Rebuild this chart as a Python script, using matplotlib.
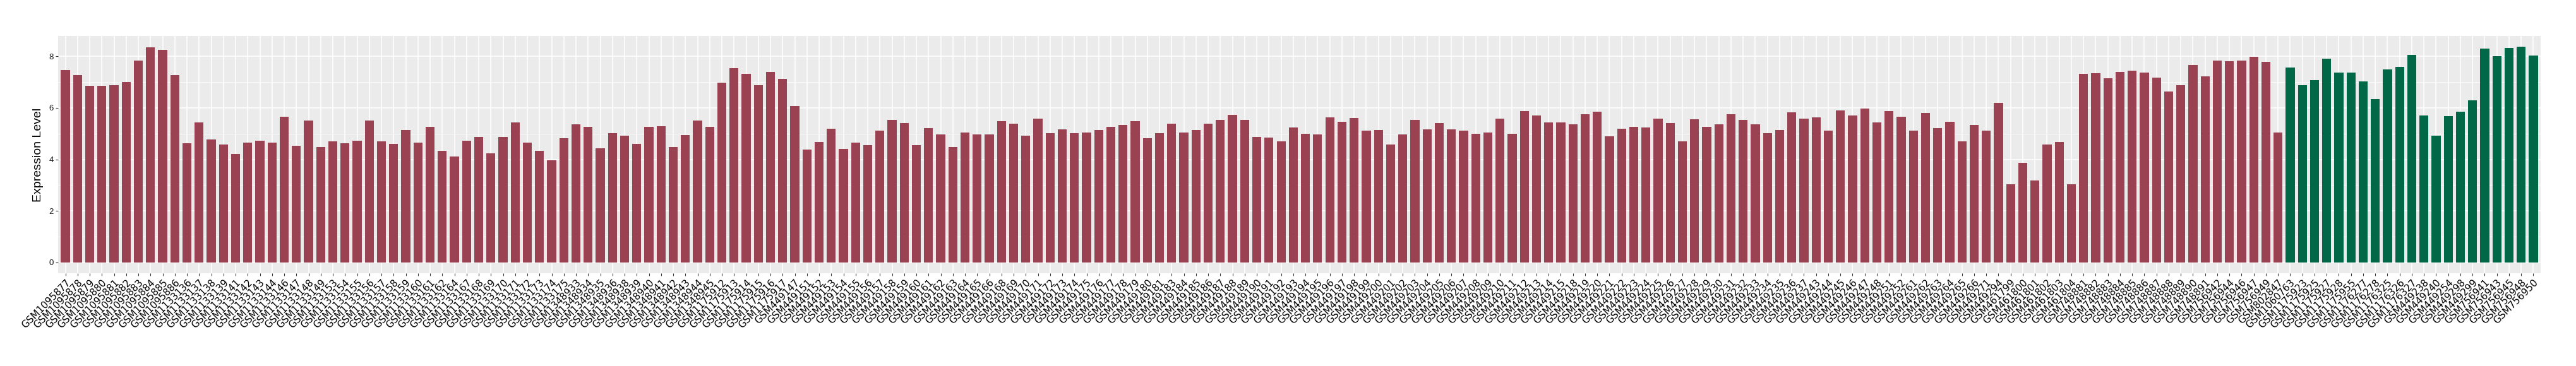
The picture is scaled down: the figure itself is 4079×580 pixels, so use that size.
import matplotlib
matplotlib.use("Agg")
import matplotlib.pyplot as plt
import numpy as np

# ---- data -------------------------------------------------------------
group_a_samples = [
    "GSM1095877", "GSM1095878", "GSM1095879", "GSM1095880", "GSM1095881",
    "GSM1095882", "GSM1095883", "GSM1095884", "GSM1095885", "GSM1095886",
    "GSM1133136", "GSM1133137", "GSM1133138", "GSM1133139", "GSM1133141",
    "GSM1133142", "GSM1133143", "GSM1133144", "GSM1133146", "GSM1133147",
    "GSM1133148", "GSM1133149", "GSM1133153", "GSM1133154", "GSM1133155",
    "GSM1133156", "GSM1133157", "GSM1133158", "GSM1133159", "GSM1133160",
    "GSM1133161", "GSM1133162", "GSM1133164", "GSM1133167", "GSM1133168",
    "GSM1133169", "GSM1133170", "GSM1133171", "GSM1133172", "GSM1133173",
    "GSM1133174", "GSM1133175", "GSM1348933", "GSM1348934", "GSM1348935",
    "GSM1348936", "GSM1348938", "GSM1348939", "GSM1348940", "GSM1348941",
    "GSM1348942", "GSM1348943", "GSM1348944", "GSM1348945", "GSM1175912",
    "GSM1175913", "GSM1175914", "GSM1175915", "GSM1175916", "GSM1175917",
    "GSM449147", "GSM449151", "GSM449152", "GSM449153", "GSM449154",
    "GSM449155", "GSM449156", "GSM449157", "GSM449158", "GSM449159",
    "GSM449160", "GSM449161", "GSM449162", "GSM449163", "GSM449164",
    "GSM449165", "GSM449166", "GSM449168", "GSM449169", "GSM449170",
    "GSM449171", "GSM449172", "GSM449173", "GSM449174", "GSM449175",
    "GSM449176", "GSM449177", "GSM449178", "GSM449179", "GSM449180",
    "GSM449181", "GSM449183", "GSM449184", "GSM449185", "GSM449186",
    "GSM449187", "GSM449188", "GSM449189", "GSM449190", "GSM449191",
    "GSM449192", "GSM449193", "GSM449194", "GSM449195", "GSM449196",
    "GSM449197", "GSM449198", "GSM449199", "GSM449200", "GSM449201",
    "GSM449202", "GSM449203", "GSM449204", "GSM449205", "GSM449206",
    "GSM449207", "GSM449208", "GSM449209", "GSM449210", "GSM449211",
    "GSM449212", "GSM449213", "GSM449214", "GSM449215", "GSM449218",
    "GSM449219", "GSM449220", "GSM449221", "GSM449222", "GSM449223",
    "GSM449224", "GSM449225", "GSM449226", "GSM449227", "GSM449228",
    "GSM449229", "GSM449230", "GSM449231", "GSM449232", "GSM449233",
    "GSM449234", "GSM449235", "GSM449236", "GSM449237", "GSM449243",
    "GSM449244", "GSM449245", "GSM449246", "GSM449247", "GSM449248",
    "GSM449251", "GSM449252", "GSM449261", "GSM449262", "GSM449263",
    "GSM449264", "GSM449265", "GSM449266", "GSM449271", "GSM449294",
    "GSM461799", "GSM461800", "GSM461801", "GSM461802", "GSM461803",
    "GSM461804", "GSM748881", "GSM748882", "GSM748883", "GSM748884",
    "GSM748885", "GSM748886", "GSM748887", "GSM748888", "GSM748889",
    "GSM748890", "GSM748891", "GSM756942", "GSM756944", "GSM756946",
    "GSM756947", "GSM756949", "GSM802847",
]
group_a_values = [
    7.47, 7.27, 6.85, 6.85, 6.88, 7.00, 7.83, 8.34, 8.24, 7.27,
    4.62, 5.44, 4.78, 4.58, 4.21, 4.65, 4.72, 4.65, 5.66, 4.53,
    5.51, 4.48, 4.70, 4.62, 4.72, 5.51, 4.70, 4.61, 5.14, 4.65,
    5.27, 4.33, 4.12, 4.72, 4.87, 4.24, 4.87, 5.44, 4.65, 4.33,
    3.96, 4.82, 5.36, 5.27, 4.43, 5.02, 4.92, 4.61, 5.27, 5.29,
    4.48, 4.94, 5.51, 5.27, 6.98, 7.54, 7.32, 6.88, 7.39, 7.12,
    6.07, 4.38, 4.68, 5.19, 4.41, 4.65, 4.55, 5.11, 5.53, 5.41,
    4.55, 5.21, 4.97, 4.48, 5.04, 4.97, 4.97, 5.48, 5.38, 4.92,
    5.58, 5.02, 5.17, 5.02, 5.04, 5.14, 5.27, 5.34, 5.48, 4.82,
    5.02, 5.38, 5.04, 5.14, 5.38, 5.53, 5.73, 5.53, 4.87, 4.85,
    4.70, 5.24, 5.00, 4.97, 5.63, 5.46, 5.60, 5.11, 5.14, 4.58,
    4.97, 5.53, 5.17, 5.41, 5.17, 5.11, 5.00, 5.04, 5.58, 5.00,
    5.87, 5.70, 5.44, 5.44, 5.36, 5.76, 5.85, 4.90, 5.19, 5.27,
    5.24, 5.58, 5.41, 4.70, 5.56, 5.27, 5.36, 5.76, 5.53, 5.36,
    5.02, 5.14, 5.83, 5.58, 5.63, 5.11, 5.90, 5.70, 5.97, 5.44,
    5.87, 5.66, 5.11, 5.81, 5.21, 5.46, 4.70, 5.34, 5.11, 6.19,
    3.04, 3.87, 3.19, 4.58, 4.68, 3.04, 7.32, 7.34, 7.15, 7.39,
    7.44, 7.37, 7.17, 6.63, 6.88, 7.67, 7.22, 7.83, 7.81, 7.83,
    7.98, 7.78, 5.04,
]
group_b_samples = [
    "GSM1060763", "GSM1175923", "GSM1175925", "GSM1175927", "GSM1175928",
    "GSM1175955", "GSM1176277", "GSM1176278", "GSM1176325", "GSM1176326",
    "GSM1176327", "GSM449238", "GSM449240", "GSM449254", "GSM449298",
    "GSM449299", "GSM756941", "GSM756943", "GSM756945", "GSM756948",
    "GSM756950",
]
group_b_values = [
    7.57, 6.88, 7.08, 7.91, 7.37, 7.37, 7.02, 6.34, 7.49, 7.58,
    8.05, 5.70, 4.92, 5.68, 5.85, 6.29, 8.30, 8.00, 8.33, 8.37,
    8.03,
]
group_a_color = "#9A4251"
group_b_color = "#006846"

# ---- figure -----------------------------------------------------------
W, H, DPI = 4080, 580, 100
fig = plt.figure(figsize=(W / DPI, H / DPI), dpi=DPI)
ax = fig.add_axes([92 / W, 1 - 433 / H, (4023 - 92) / W, (433 - 57) / H])

labels = group_a_samples + group_b_samples
values = group_a_values + group_b_values
colors = [group_a_color] * len(group_a_samples) + [group_b_color] * len(group_b_samples)
x = np.arange(len(labels))

ax.set_facecolor("#EBEBEB")
ax.bar(x, values, width=0.74, color=colors, zorder=3)

n = len(labels)
ax.set_xlim(-0.6, n - 1 + 0.6)
vmax = max(values)
ax.set_ylim(-0.05 * vmax, vmax * 1.05)

ax.set_xticks(x)
ax.set_xticklabels(labels, rotation=45, ha="right", va="top",
                   rotation_mode="anchor", fontsize=11,
                   family="DejaVu Sans", color="black")
ax.set_yticks([0, 2, 4, 6, 8])
ax.set_yticks([1, 3, 5, 7], minor=True)
ax.set_yticklabels(["0", "2", "4", "6", "8"], fontsize=9.5,
                   family="Liberation Sans", color="#1A1A1A")

ax.grid(which="major", color="white", linewidth=1.1, zorder=1)
ax.grid(which="minor", axis="y", color="white", linewidth=0.55, zorder=1)
ax.set_axisbelow(True)
for s in ax.spines.values():
    s.set_visible(False)
ax.tick_params(axis="both", which="major", length=3, width=0.8, color="#333333")
ax.tick_params(axis="x", pad=2)
ax.tick_params(axis="y", pad=2)
ax.tick_params(which="minor", length=0)

ax.set_ylabel("Expression Level", fontsize=14, family="Liberation Sans",
              color="black", labelpad=6)

fig.savefig("out.png", dpi=DPI, facecolor="white")
